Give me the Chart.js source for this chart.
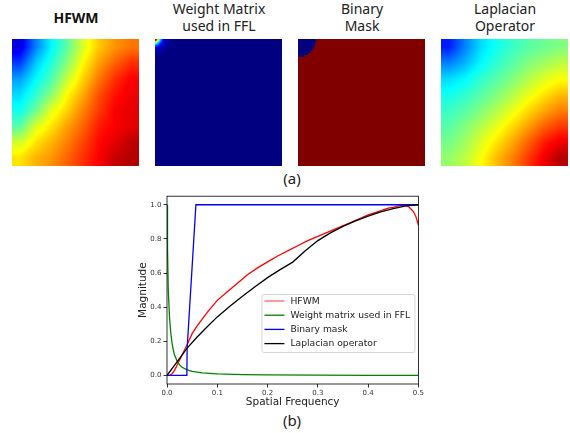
<!DOCTYPE html>
<html>
<head>
<meta charset="utf-8">
<script src="https://cdn.jsdelivr.net/npm/chart.js@4.4.1/dist/chart.umd.min.js"></script>
<style>
  body { margin: 0; width: 570px; height: 433px; background: #fff; position: relative; overflow: hidden; font-family: "Noto Sans", sans-serif; }
  .title { position: absolute; width: 160px; text-align: center; font-size: 14px; line-height: 17px; color: #222; }
  .map { position: absolute; top: 39px; }
  .cap { position: absolute; width: 60px; text-align: center; font-size: 15px; line-height: 18px; color: #222; }
  #lines { position: absolute; left: 132px; top: 190px; }
</style>
</head>
<body>
<div class="title" style="left:-4px;top:9px;font-weight:bold;color:#111">HFWM</div>
<div class="title" style="left:139px;top:0">Weight Matrix<br>used in FFL</div>
<div class="title" style="left:282px;top:0">Binary<br>Mask</div>
<div class="title" style="left:425px;top:0">Laplacian<br>Operator</div>

<canvas id="hfwm" class="map" width="127" height="127" style="left:12px"></canvas>
<canvas id="weight" class="map" width="127" height="127" style="left:155px"></canvas>
<canvas id="mask" class="map" width="127" height="127" style="left:298px"></canvas>
<canvas id="lap" class="map" width="127" height="127" style="left:441px"></canvas>
<div class="cap" style="left:262px;top:169px">(a)</div>

<canvas id="lines" width="293" height="219"></canvas>
<div class="cap" style="left:262px;top:411px">(b)</div>

<script>
// HFWM map, 8x8 cells, values 0..1, top row first
const hfwmGrid = [
  [0.09, 0.25, 0.37, 0.47, 0.59, 0.68, 0.73, 0.76],
  [0.18, 0.32, 0.41, 0.51, 0.63, 0.72, 0.78, 0.83],
  [0.28, 0.37, 0.45, 0.57, 0.67, 0.76, 0.83, 0.88],
  [0.34, 0.42, 0.51, 0.63, 0.71, 0.80, 0.86, 0.89],
  [0.39, 0.48, 0.60, 0.67, 0.75, 0.82, 0.88, 0.90],
  [0.46, 0.59, 0.65, 0.72, 0.78, 0.85, 0.88, 0.90],
  [0.58, 0.65, 0.70, 0.75, 0.81, 0.87, 0.90, 0.94],
  [0.65, 0.70, 0.73, 0.78, 0.83, 0.88, 0.93, 0.95]
];
// Laplacian map, 8x8 cells, values 0..1
const lapGrid = [
  [0.15, 0.25, 0.34, 0.39, 0.43, 0.46, 0.48, 0.50],
  [0.25, 0.30, 0.37, 0.42, 0.46, 0.50, 0.53, 0.56],
  [0.34, 0.37, 0.42, 0.46, 0.50, 0.55, 0.59, 0.62],
  [0.39, 0.42, 0.46, 0.50, 0.55, 0.60, 0.65, 0.69],
  [0.43, 0.46, 0.50, 0.55, 0.60, 0.66, 0.71, 0.75],
  [0.46, 0.50, 0.55, 0.60, 0.66, 0.72, 0.78, 0.82],
  [0.49, 0.53, 0.59, 0.65, 0.71, 0.78, 0.85, 0.89],
  [0.52, 0.56, 0.62, 0.69, 0.75, 0.82, 0.89, 0.95]
];
// weight matrix: 64x64 cells, only the top-left corner is above zero
const weightCorner = [
  [0.95, 0.6, 0.35, 0.2, 0.1, 0.06, 0.04, 0.03, 0.02],
  [0.6, 0.4, 0.25, 0.15, 0.08, 0.05, 0.03, 0.02, 0.02],
  [0.35, 0.25, 0.15, 0.1, 0.06, 0.04, 0.03, 0.02, 0.01],
  [0.2, 0.15, 0.1, 0.06, 0.04, 0.03, 0.02, 0.01, 0.01],
  [0.1, 0.08, 0.06, 0.04, 0.03, 0.02, 0.01, 0.01],
  [0.06, 0.05, 0.04, 0.03, 0.02, 0.01, 0.01],
  [0.04, 0.03, 0.03, 0.02, 0.01, 0.01],
  [0.03, 0.02, 0.02, 0.01, 0.01],
  [0.02, 0.02, 0.01, 0.01]
];
// binary mask: width of the low-frequency (blue) part on each of the top rows, 64 rows in all
const maskBlue = [0.142, 0.14, 0.137, 0.131, 0.123, 0.113, 0.099, 0.08, 0.05];

// profiles
const hfwmX = [0, 0.005, 0.01, 0.015, 0.02, 0.03, 0.04, 0.05, 0.06, 0.07, 0.08, 0.09, 0.1, 0.12, 0.14, 0.16, 0.18, 0.2, 0.22, 0.24, 0.26, 0.28, 0.3, 0.32, 0.34, 0.36, 0.38, 0.4, 0.42, 0.44, 0.45, 0.46, 0.47, 0.475, 0.48, 0.485, 0.49, 0.495, 0.5];
const hfwmY = [0, 0, 0.01, 0.03, 0.06, 0.12, 0.18, 0.245, 0.29, 0.33, 0.37, 0.405, 0.44, 0.49, 0.54, 0.59, 0.63, 0.665, 0.7, 0.73, 0.76, 0.79, 0.815, 0.84, 0.865, 0.89, 0.915, 0.94, 0.96, 0.98, 0.985, 0.993, 0.997, 0.995, 0.99, 0.975, 0.96, 0.93, 0.88];
const ffwX = [0, 0.001, 0.0025, 0.005, 0.0075, 0.01, 0.0125, 0.015, 0.02, 0.025, 0.03, 0.04, 0.05, 0.07, 0.1, 0.15, 0.2, 0.3, 0.4, 0.5];
const ffwY = [1.0, 0.75, 0.5, 0.34, 0.25, 0.19, 0.15, 0.12, 0.085, 0.062, 0.048, 0.033, 0.024, 0.015, 0.009, 0.005, 0.003, 0.002, 0.001, 0.001];
const maskX = [0, 0.0395, 0.04, 0.0575, 0.5];
const maskY = [0, 0, 0.156, 1, 1];
const lapX = [0, 0.02, 0.04, 0.06, 0.08, 0.1, 0.125, 0.15, 0.175, 0.2, 0.225, 0.25, 0.275, 0.3, 0.325, 0.35, 0.375, 0.4, 0.425, 0.45, 0.475, 0.5];
const lapY = [0, 0.08, 0.16, 0.225, 0.285, 0.343, 0.405, 0.464, 0.52, 0.573, 0.62, 0.664, 0.73, 0.79, 0.835, 0.873, 0.905, 0.933, 0.958, 0.977, 0.993, 1.0];

const xTicks = [0, 0.1, 0.2, 0.3, 0.4, 0.5];
const yTicks = [0, 0.2, 0.4, 0.6, 0.8, 1.0];

Chart.defaults.font.family = 'DejaVu Sans';
Chart.defaults.animation = false;

function jet(v) {
  const c = t => Math.round(Math.max(0, Math.min(1, t)) * 255);
  return [c(1.5 - Math.abs(4 * v - 3)), c(1.5 - Math.abs(4 * v - 2)), c(1.5 - Math.abs(4 * v - 1))];
}

// cells painted into the box the scales give, bilinear like imshow
const heatPlugin = {
  id: 'heat',
  beforeDatasetsDraw(chart, args, opts) {
    const {ctx, scales: {x, y}} = chart;
    const x0 = Math.round(x.getPixelForValue(0)), x1 = Math.round(x.getPixelForValue(1));
    const y0 = Math.round(y.getPixelForValue(0)), y1 = Math.round(y.getPixelForValue(1));
    if (opts.grid) {
      const g = opts.grid, n = g.length, m = g[0].length;
      const W = x1 - x0, H = y1 - y0;
      const img = ctx.createImageData(W, H);
      const at = (len, p, size) => {
        const t = Math.min(len - 1, Math.max(0, (p + 0.5) / size * len - 0.5));
        const a = Math.floor(t);
        return [a, Math.min(len - 1, a + 1), t - a];
      };
      for (let py = 0; py < H; py++) {
        const [i0, i1, fy] = at(n, py, H);
        for (let px = 0; px < W; px++) {
          const [j0, j1, fx] = at(m, px, W);
          const v = (g[i0][j0] * (1 - fx) + g[i0][j1] * fx) * (1 - fy) + (g[i1][j0] * (1 - fx) + g[i1][j1] * fx) * fy;
          const [r, gg, b] = jet(v);
          img.data.set([r, gg, b, 255], (py * W + px) * 4);
        }
      }
      ctx.putImageData(img, x0, y0);
    } else {
      // binary mask
      ctx.save();
      ctx.fillStyle = '#800000';
      ctx.fillRect(x0, y0, x1 - x0, y1 - y0);
      ctx.fillStyle = '#000080';
      opts.runs.forEach((w, i) => {
        const top = y.getPixelForValue(i / 64), bot = y.getPixelForValue((i + 1) / 64);
        ctx.fillRect(x0, top, x.getPixelForValue(w) - x0, bot - top);
      });
      ctx.restore();
    }
  }
};

function heatmap(id, heat) {
  new Chart(document.getElementById(id), {
    type: 'scatter',
    data: { datasets: [] },
    options: {
      responsive: false,
      devicePixelRatio: 1,
      layout: { padding: 0 },
      scales: {
        x: { display: false, min: 0, max: 1 },
        y: { display: false, min: 0, max: 1, reverse: true }
      },
      plugins: { legend: { display: false }, tooltip: { enabled: false }, heat: heat }
    },
    plugins: [heatPlugin]
  });
}

const weightGrid = [];
for (let i = 0; i < 64; i++) {
  const row = (weightCorner[i] || []).slice();
  while (row.length < 64) row.push(0);
  weightGrid.push(row);
}

heatmap('hfwm', { grid: hfwmGrid });
heatmap('weight', { grid: weightGrid });
heatmap('mask', { runs: maskBlue });
heatmap('lap', { grid: lapGrid });

// line chart
const pts = (xs, ys) => xs.map((x, i) => ({ x: x, y: ys[i] }));

const frame = {
  id: 'frame',
  afterDraw(chart) {
    const {ctx, chartArea: a} = chart;
    ctx.save();
    ctx.strokeStyle = '#000';
    ctx.lineWidth = 0.8;
    ctx.strokeRect(a.left, a.top, a.right - a.left, a.bottom - a.top);

    // legend box in the lower right of the plot
    const w = 153, h = 58;
    const bx = a.right - 4 - w, by = a.bottom - 32 - h;
    ctx.fillStyle = 'rgba(255,255,255,0.85)';
    ctx.strokeStyle = '#d6d6d6';
    ctx.lineWidth = 1;
    ctx.beginPath();
    ctx.roundRect(bx + 0.5, by + 0.5, w, h, 2);
    ctx.fill();
    ctx.stroke();
    ctx.font = '9.2px "DejaVu Sans"';
    ctx.textBaseline = 'middle';
    chart.data.datasets.forEach((ds, i) => {
      const ly = by + 7 + i * 14.2;
      ctx.strokeStyle = ds.legendColor || ds.borderColor;
      ctx.lineWidth = 1.3;
      ctx.beginPath();
      ctx.moveTo(bx + 3, ly);
      ctx.lineTo(bx + 23, ly);
      ctx.stroke();
      ctx.fillStyle = '#222';
      ctx.fillText(ds.label, bx + 29, ly + 0.5);
    });
    ctx.restore();
  }
};

new Chart(document.getElementById('lines'), {
  type: 'line',
  data: {
    datasets: [
      { label: 'HFWM', data: pts(hfwmX, hfwmY), borderColor: '#ff0000', legendColor: '#ff6060', order: 4 },
      { label: 'Weight matrix used in FFL', data: pts(ffwX, ffwY), borderColor: '#008000', order: 3 },
      { label: 'Binary mask', data: pts(maskX, maskY), borderColor: '#0000ff', order: 2 },
      { label: 'Laplacian operator', data: pts(lapX, lapY), borderColor: '#000000', order: 1 }
    ]
  },
  options: {
    responsive: false,
    devicePixelRatio: 1,
    layout: { padding: { top: 6, right: 6, left: 0, bottom: 0 } },
    elements: { point: { radius: 0 }, line: { borderWidth: 1.3, tension: 0 } },
    scales: {
      x: {
        type: 'linear', min: 0, max: 0.5,
        afterBuildTicks: s => { s.ticks = xTicks.map(v => ({ value: v })); },
        afterFit: s => { s.height = 25; },
        ticks: { font: { size: 7 }, color: '#333', padding: 1, maxRotation: 0, callback: v => v.toFixed(1) },
        grid: { drawOnChartArea: false, tickLength: 3.5, tickColor: '#000', tickWidth: 0.8 },
        border: { display: false },
        title: { display: true, text: 'Spatial Frequency', font: { size: 10.5 }, color: '#222', padding: 0 }
      },
      y: {
        type: 'linear', min: -0.05, max: 1.05,
        afterBuildTicks: s => { s.ticks = yTicks.map(v => ({ value: v })); },
        afterFit: s => { s.width = 35; },
        ticks: { font: { size: 7 }, color: '#333', padding: 2, callback: v => v.toFixed(1) },
        grid: { drawOnChartArea: false, tickLength: 3.5, tickColor: '#000', tickWidth: 0.8 },
        border: { display: false },
        title: { display: true, text: 'Magnitude', font: { size: 10.5 }, color: '#222', padding: { top: 5, bottom: 0 } }
      }
    },
    plugins: { legend: { display: false }, tooltip: { enabled: false } }
  },
  plugins: [frame]
});
</script>
</body>
</html>
